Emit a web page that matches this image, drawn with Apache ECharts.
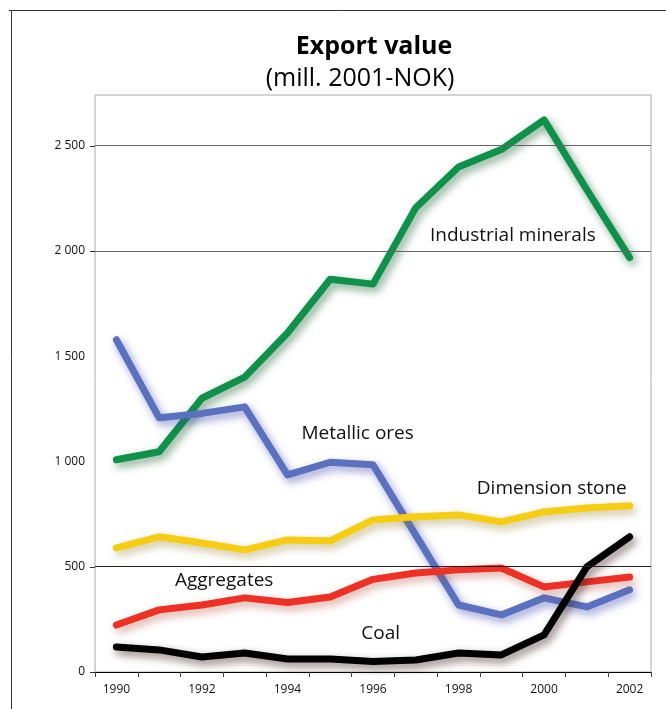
<!DOCTYPE html>
<html><head><meta charset="utf-8">
<script src="https://cdn.jsdelivr.net/npm/echarts@6/dist/echarts.min.js"></script>
<style>html,body{margin:0;padding:0;background:#fff}#c{width:666px;height:709px}</style>
</head><body><div id="c"></div>
<script>
const years = ['1990','1991','1992','1993','1994','1995','1996','1997','1998','1999','2000','2001','2002'];
const industrialMinerals = [1008,1046,1300,1400,1610,1865,1842,2205,2398,2481,2622,2290,1968];
const metallicOres = [1578,1207,1228,1259,936,996,984,650,318,271,352,309,390];
const dimensionStone = [589,642,613,580,627,623,722,737,746,713,760,779,789];
const aggregates = [223,295,318,352,330,356,440,470,485,494,404,428,451];
const coal = [119,105,71,90,62,62,50,57,90,81,176,499,642];
const yTicks = [0,500,1000,1500,2000,2500];
const gridValues = [500,2000,2500];
const tickValues = [0,500,2000,2500];
const seriesNames = ['Industrial minerals','Metallic ores','Dimension stone','Aggregates','Coal'];
const seriesData = [industrialMinerals, metallicOres, dimensionStone, aggregates, coal];
const colors = ['#0e9148','#5a71bf','#f6cd12','#ee3124','#000000'];
const shadows = ['rgba(20,90,40,0.55)','rgba(60,70,170,0.55)','rgba(150,130,40,0.5)','rgba(170,60,40,0.45)','rgba(60,30,30,0.6)'];
// label anchor positions in data units [category index (fractional), value]
const labelAnchors = [[9.27,2072],[5.64,1131],[10.18,870],[2.52,432],[6.18,181]];

const FONT = 'Open Sans';
const chart = echarts.init(document.getElementById('c'));
const series = [{
  type:'line', data:[], silent:true,
  markLine:{silent:true, symbol:'none', label:{show:false},
    lineStyle:{type:'solid', width:1, color:'#555'},
    data: gridValues.map(v=>({yAxis:v, lineStyle:{color: v===500 ? '#222' : '#666'}}))}
}];
seriesNames.forEach((n,i)=>{
  series.push({
    name:n, type:'line', data:seriesData[i], symbol:'none', smooth:false,
    lineStyle:{width:7, color:colors[i], cap:'round', join:'round',
      shadowBlur:9, shadowColor:shadows[i], shadowOffsetX:3, shadowOffsetY:4},
    z: 3 + (i===4?1:0)
  });
});
chart.setOption({
  animation:false,
  textStyle:{fontFamily:FONT},
  title:[
    {text:'Export value', left:369, top:29, textAlign:'center',
     textStyle:{fontFamily:FONT, fontSize:25, fontWeight:'bold', color:'#000'}},
    {text:'(mill. 2001-NOK)', left:355, top:61, textAlign:'center',
     textStyle:{fontFamily:FONT, fontSize:25, fontWeight:'normal', color:'#000'}}
  ],
  grid:{left:95, right:15, top:95, bottom:37, show:true, borderColor:'#aaa', borderWidth:1, containLabel:false},
  xAxis:{type:'category', data:years, boundaryGap:true,
    axisLine:{lineStyle:{color:'#000', width:1}},
    axisTick:{show:true, interval:0, alignWithLabel:false, length:5, lineStyle:{color:'#444'}},
    axisLabel:{interval:1, margin:12, fontSize:12, color:'#111', fontFamily:FONT},
    splitLine:{show:false}},
  yAxis:{type:'value', min:0, max:2740, interval:500,
    axisLine:{show:false},
    axisTick:{show:false},
    axisLabel:{margin:10, fontSize:12, color:'#111', fontFamily:FONT,
      customValues: yTicks,
      formatter: v => v>=1000 ? String(v).replace(/(\d)(\d{3})$/,'$1 $2') : String(v)},
    splitLine:{show:false}},
  series: series
});
const texts = seriesNames.map((n,i)=>{
  const a = labelAnchors[i];
  const i0 = Math.floor(a[0]), f = a[0]-i0;
  const p0 = chart.convertToPixel({gridIndex:0}, [i0, a[1]]);
  const p1 = chart.convertToPixel({gridIndex:0}, [i0+1, a[1]]);
  return {type:'text', x:p0[0] + f*(p1[0]-p0[0]), y:p0[1], z:50,
    style:{text:n, fill:'#111', font:'19px "'+FONT+'"', align:'center', verticalAlign:'middle'}};
});
const ticks = tickValues.map(v=>{
  const y = Math.round(chart.convertToPixel({yAxisIndex:0}, v)) + 0.5;
  return {type:'line', shape:{x1:90, y1:y, x2:95, y2:y}, style:{stroke:'#333', lineWidth:1}};
});
chart.setOption({graphic: [
    {type:'line', shape:{x1:9,y1:10.5,x2:666,y2:10.5}, style:{stroke:'#333', lineWidth:1}},
    {type:'line', shape:{x1:11.5,y1:10,x2:11.5,y2:709}, style:{stroke:'#333', lineWidth:1}}
  ].concat(ticks).concat(texts)});
</script></body></html>
